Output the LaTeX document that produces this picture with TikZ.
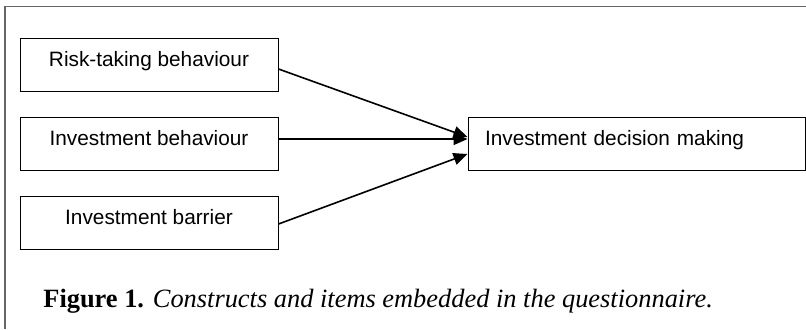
\documentclass[tikz,border=0pt]{standalone}
\usepackage{fontspec}
\setmainfont{Liberation Serif}
\setsansfont{Liberation Sans}
\usetikzlibrary{arrows.meta}
\tikzset{
  factor/.style={draw, line width=.5pt, minimum width=129pt, inner xsep=0pt,
    inner ysep=7pt, text height=7.45pt, text depth=5.5pt,
    font=\sffamily\fontsize{10.4}{12}\selectfont},
  outcome/.style={factor, minimum width=0pt, text width=151.5pt, inner xsep=8.5pt,
    align=left},
  link/.style={-{Triangle[length=7pt,width=6pt]}, line width=.8pt}
}
\begin{document}
\begin{tikzpicture}[x=.5pt,y=-.5pt]
    \useasboundingbox (0,0) rectangle (806,329);
    \draw[gray!80!black, line width=.6pt] (5,329) -- (5,6.5) -- (806,6.5);

    \node (risk) at (149,65) [factor] {Risk-taking behaviour};
    \node (behav) at (149,144) [factor] {Investment behaviour};
    \node (barrier) at (149,223) [factor] {Investment barrier};
    \node (decision) at (636.5,144) [outcome] {Investment decision making};

    \draw[link] ([yshift=-2pt]risk.east) -- ([yshift=3.5pt]decision.west);
    \draw[link] ([yshift=2.5pt]behav.east) -- ([yshift=2.5pt]decision.west);
    \draw[link] ([yshift=-.5pt]barrier.east) -- ([yshift=-5pt]decision.west);

    \node (caption) at (43,307) [anchor=base west, inner sep=0pt,
      font=\fontsize{13.2}{15}\selectfont]
      {\textbf{Figure 1.} \textit{Constructs and items embedded in the questionnaire.}};
  \end{tikzpicture}
\end{document}
